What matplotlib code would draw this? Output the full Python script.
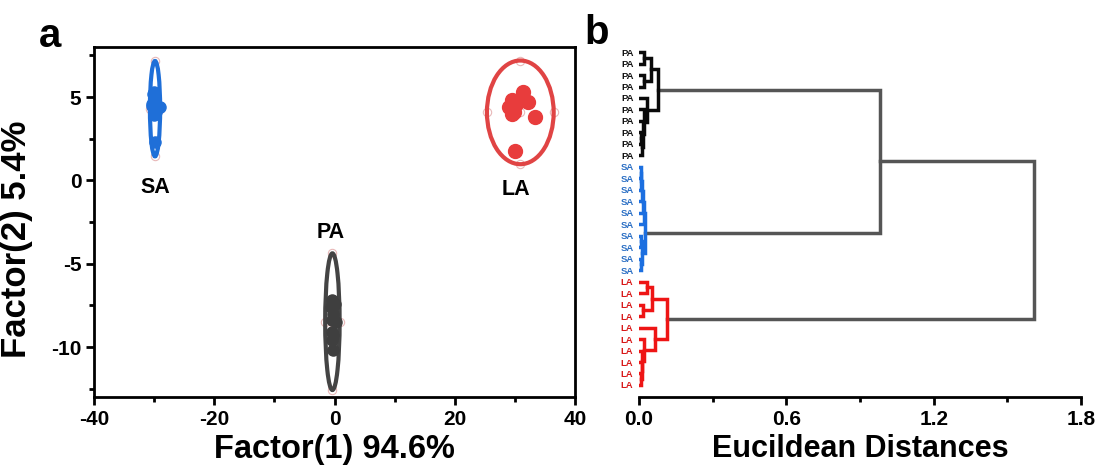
import matplotlib
matplotlib.use("Agg")
import matplotlib.pyplot as plt
from matplotlib.patches import Ellipse
from matplotlib.ticker import MultipleLocator
import numpy as np

plt.rcParams['font.family'] = ['Liberation Sans', 'DejaVu Sans']
plt.rcParams['font.weight'] = 'bold'
plt.rcParams['axes.unicode_minus'] = False

# ---------------- panel a data ----------------
sa_x = [-30.4, -29.1, -30.2, -29.8, -30.0, -30.1, -29.9, -30.3, -30.0, -29.7]
sa_y = [4.48, 4.40, 5.18, 4.30, 4.90, 3.90, 2.30, 4.60, 5.30, 4.10]
la_x = [31.3, 29.55, 32.15, 29.1, 29.5, 33.4, 30.05, 29.77, 29.9, 30.2]
la_y = [5.32, 4.82, 4.68, 4.38, 3.98, 3.81, 1.77, 4.48, 4.10, 4.60]
pa_x = [-0.5, -0.6, -0.3, 0.3, -0.4, -0.5, -0.2, -0.4, 0.0, -0.3]
pa_y = [-7.2, -7.6, -8.0, -8.5, -9.1, -9.6, -10.2, -8.4, -7.4, -9.3]

# ellipses: center x, center y, half-width, half-height
ell_sa = (-29.85, 4.30, 0.85, 2.86)
ell_la = (30.9, 4.08, 5.55, 3.11)
ell_pa = (-0.35, -8.48, 1.2, 4.1)

group_labels = ['SA', 'LA', 'PA']
label_pos_x = [-29.85, 30.2, -0.7]
label_pos_y = [-0.4, -0.55, -3.1]

xticks_a = [-40, -20, 0, 20, 40]
yticks_a = [-10, -5, 0, 5]

# ---------------- panel b data ----------------
leaf_labels = ['PA'] * 10 + ['SA'] * 10 + ['LA'] * 10
# merges: (child_a, child_b, height); new node ids start at 30
merges = [
    (0, 1, 0.022), (2, 3, 0.020), (30, 31, 0.048),
    (7, 8, 0.008), (33, 9, 0.012), (6, 34, 0.015), (5, 35, 0.020),
    (4, 36, 0.032), (32, 37, 0.078),
    (10, 11, 0.006), (39, 12, 0.009), (40, 13, 0.012), (41, 14, 0.016),
    (42, 15, 0.020), (16, 17, 0.007), (18, 19, 0.006), (44, 45, 0.014),
    (43, 46, 0.025),
    (20, 21, 0.031), (22, 23, 0.015), (48, 49, 0.052),
    (28, 29, 0.006), (27, 51, 0.010), (26, 52, 0.014), (25, 53, 0.020),
    (24, 54, 0.066), (50, 55, 0.113),
    (38, 47, 0.98), (57, 56, 1.61),
]
xticks_b = [0.0, 0.6, 1.2, 1.8]

col_sa = '#1f6fd8'
col_la = '#e83c3c'
col_pa = '#3f3f3f'
line_cols = {'PA': '#0a0a0a', 'SA': '#1c6fe0', 'LA': '#ee1515'}
text_cols = {'PA': '#111111', 'SA': '#2b6fc4', 'LA': '#d81818'}
link_gray = '#555555'

fig = plt.figure(figsize=(11.02, 4.74), dpi=100)

# ---------------- panel a ----------------
ax = fig.add_axes([0.0853, 0.1624, 0.4365, 0.7384])
for (cx, cy, hw, hh), ecol in [(ell_sa, col_sa), (ell_la, '#e04444'), (ell_pa, '#444444')]:
    ax.add_patch(Ellipse((cx, cy), 2 * hw, 2 * hh, fill=False, ec=ecol, lw=3, zorder=2))
    ex = [cx, cx, cx - hw, cx + hw, cx]
    ey = [cy + hh, cy - hh, cy, cy, cy]
    ax.plot(ex, ey, 'o', ms=6, mfc='none', mec='#e8b8b8', mew=0.8, zorder=1)
ax.plot(sa_x, sa_y, 'o', ms=8, color=col_sa, zorder=3)
ax.plot(la_x, la_y, 'o', ms=10, color=col_la, zorder=3)
ax.plot(pa_x, pa_y, 'o', ms=8, color=col_pa, zorder=3)
for t, x, y in zip(group_labels, label_pos_x, label_pos_y):
    ax.text(x, y, t, ha='center', va='center', fontsize=15.5, fontweight='bold')

ax.set_xlim(-40, 40)
ax.set_ylim(-13, 8)
ax.set_xticks(xticks_a)
ax.set_yticks(yticks_a)
ax.xaxis.set_minor_locator(MultipleLocator(10))
ax.yaxis.set_minor_locator(MultipleLocator(2.5))
ax.tick_params(which='major', direction='out', length=6, width=2, labelsize=15, pad=3)
ax.tick_params(which='minor', direction='out', length=3.5, width=2)
for s in ax.spines.values():
    s.set_linewidth(2)
for lab in ax.get_xticklabels() + ax.get_yticklabels():
    lab.set_fontweight('bold')
ax.set_xlabel('Factor(1) 94.6%', fontsize=23.5, fontweight='bold', labelpad=4)
ax.set_ylabel('Factor(2) 5.4%', fontsize=25, fontweight='bold')
ax.yaxis.set_label_coords(-0.127, 0.45)
fig.text(0.045, 0.924, 'a', fontsize=29, fontweight='bold', ha='center', va='center')

# ---------------- panel b ----------------
bx = fig.add_axes([0.5799, 0.1624, 0.4011, 0.7384])
n = len(leaf_labels)
ypos = {i: float(i) for i in range(n)}
xpos = {i: 0.0 for i in range(n)}
grp = {i: leaf_labels[i] for i in range(n)}
for k, (a, b, h) in enumerate(merges):
    node = n + k
    g = grp[a] if grp[a] == grp[b] else None
    c = line_cols[g] if g else link_gray
    bx.plot([xpos[a], h, h, xpos[b]], [ypos[a], ypos[a], ypos[b], ypos[b]],
            color=c, lw=2.5, solid_joinstyle='miter', zorder=2 if g else 1)
    ypos[node] = (ypos[a] + ypos[b]) / 2
    xpos[node] = h
    grp[node] = g

bx.set_xlim(0, 1.8)
bx.set_ylim(30.05, -0.44)
bx.set_xticks(xticks_b)
bx.set_xticklabels([f'{v:.1f}' for v in xticks_b])
bx.xaxis.set_minor_locator(MultipleLocator(0.3))
bx.set_yticks(range(n))
bx.set_yticklabels(leaf_labels)
for lab, t in zip(bx.get_yticklabels(), leaf_labels):
    lab.set_color(text_cols[t])
    lab.set_fontweight('bold')
    lab.set_fontsize(6.8)
bx.tick_params(axis='y', length=0, pad=4)
bx.tick_params(axis='x', which='major', direction='out', length=6, width=2, labelsize=15, pad=3)
bx.tick_params(axis='x', which='minor', direction='out', length=3.5, width=2)
for lab in bx.get_xticklabels():
    lab.set_fontweight('bold')
for sname in ['left', 'right', 'top']:
    bx.spines[sname].set_visible(False)
bx.spines['bottom'].set_linewidth(2)
bx.set_xlabel('Eucildean Distances', fontsize=22, fontweight='bold', labelpad=4)
fig.text(0.541, 0.930, 'b', fontsize=29, fontweight='bold', ha='center', va='center')

fig.savefig('out.png', dpi=100)
